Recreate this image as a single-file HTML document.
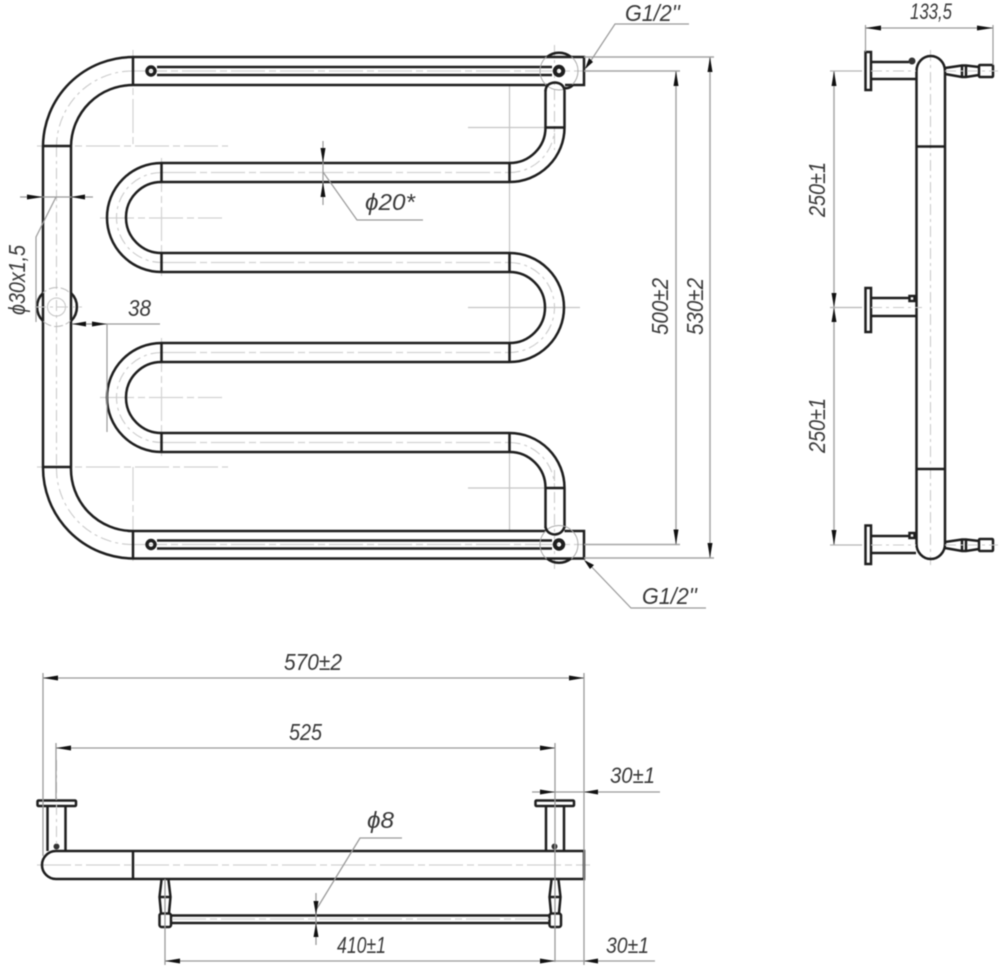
<!DOCTYPE html>
<html>
<head>
<meta charset="utf-8">
<style>
html,body{margin:0;padding:0;background:#fff;width:1000px;height:967px;overflow:hidden}
svg{display:block;filter:blur(.45px)}
.k{fill:none;stroke:#1e1e1e;stroke-width:2.5}
.m{fill:none;stroke:#444;stroke-width:1.4}
.d{fill:none;stroke:#9a9a9a;stroke-width:1.2}
.c{fill:none;stroke:#d2d2d2;stroke-width:1.2;stroke-dasharray:34 4 7 4}
.c2{fill:none;stroke:#cbcbcb;stroke-width:1.1;stroke-dasharray:11 4 3 4}
.a{fill:#111;stroke:none}
text{font-family:"Liberation Sans",sans-serif;font-style:italic;font-size:23px;fill:#3a3a3a}
</style>
</head>
<body>
<svg width="1000" height="967" viewBox="0 0 1000 967" xmlns="http://www.w3.org/2000/svg">

<!-- FRONT VIEW centerlines -->
<path class="c" d="M37,146H228M133,50V146M100,218H222M161.5,158V276M100,397.5H222M161.5,338V456M37,467H228M133,467V565"/>
<path class="c" d="M133,71H590M133,544.5H590M162,172.5H510M162,262.5H510M162,352.5H510M162,442.5H510"/>
<path class="c2" d="M56.5,146V470M554.5,45V150M554.5,470V570"/>
<path class="d" style="stroke:#c4c4c4" d="M509.5,85V163M468,127.5H545M509.5,452V531M468,488H545M509.5,253V160M468,307.5H580M509.5,362V272"/>
<path class="c2" d="M133,71A76,76 0 0 0 56.5,146M133,544.5A76,76 0 0 1 56.5,467M161.5,172.5A45,45 0 0 0 116.5,218A45,45 0 0 0 161.5,262.5M161.5,352.5A45,45 0 0 0 116.5,397.5A45,45 0 0 0 161.5,442.5M509.5,172.5A45,45 0 0 0 554.5,127.5M509.5,262.5A45,45 0 0 1 554.5,307.5A45,45 0 0 1 509.5,352.5M509.5,442.5A45,45 0 0 1 554.5,488"/>

<!-- FRONT VIEW outlines -->
<path class="k" d="M547,85H133A62,62 0 0 0 71,146V467A62,62 0 0 0 133,531H545.5M564.5,531H584V558.5H133A91,91 0 0 1 43,467V146A90,90 0 0 1 133,57H584V85H565"/>
<path class="k" d="M133,57V85M43,146H71M43,467H71M133,531V558"/>
<path class="k" d="M564.5,90V127.5A55,54.5 0 0 1 509.5,182H161.5A35.5,35.5 0 0 0 161.5,253H509.5A54.5,54.5 0 0 1 509.5,362H161.5A35.5,35.5 0 0 0 161.5,433H509.5A55,55 0 0 1 564.5,488V528"/>
<path class="k" d="M545.5,90V127.5A36,35.5 0 0 1 509.5,163H161.5A54.5,54.5 0 0 0 161.5,272H509.5A35.5,35.5 0 0 1 509.5,343H161.5A54.5,54.5 0 0 0 161.5,452H509.5A36,36 0 0 1 545.5,488V528"/>
<path class="k" d="M161.5,163V182M161.5,253V272M161.5,343V362M161.5,433V452M509.5,163V182M509.5,253V272M509.5,343V362M509.5,433V452M545.5,127.5H564.5M545.5,488H564.5"/>

<!-- Rails -->
<path class="k" d="M157,67H552M157,75H552M157,540.5H552M157,548.5H552"/>
<circle class="k" cx="151" cy="71" r="4" style="stroke-width:3.4"/>
<circle class="k" cx="151" cy="544.5" r="4" style="stroke-width:3.4"/>
<circle class="k" cx="559" cy="71" r="4.2" style="stroke-width:4"/>
<circle class="k" cx="559" cy="544.5" r="4.2" style="stroke-width:4"/>
<circle cx="559" cy="71" r="19" fill="none" stroke="#aaa" stroke-width="1"/>
<circle cx="559" cy="544.5" r="19" fill="none" stroke="#aaa" stroke-width="1"/>
<path class="k" d="M547,57A19,19 0 0 1 571,57M545.5,91Q546,83 555,82.500Q563,83 564.5,90M564.500,88Q569,89 573,85"/>
<path class="k" d="M547,558.500A19,19 0 0 0 571,558.500M545.500,527Q547,534 555,534.500Q562,534 564.500,527"/>

<!-- left mounting circle -->
<circle cx="56.5" cy="307" r="19.5" fill="none" stroke="#bbb" stroke-width="1" stroke-dasharray="9 3"/>
<circle cx="56.5" cy="307" r="9" fill="none" stroke="#c4c4c4" stroke-width="1"/>
<path class="k" d="M43,293A19.5,19.5 0 0 0 43,321M71,293A19.5,19.5 0 0 1 71,321"/>
<path class="c2" d="M35,307H82"/>

<!-- FRONT dims -->
<path class="d" d="M20,197H93M56,197L36,237V322"/>
<polygon class="a" points="43,197 27,194.5 27,199.5"/>
<polygon class="a" points="71,197 85,194.5 85,199.5"/>
<path class="d" d="M72,324H160M107,324V432"/>
<polygon class="a" points="72,324 86,321.5 86,326.5"/>
<polygon class="a" points="107,324 92,321.5 92,326.5"/>
<path class="d" d="M323,141V205M323,172L357,220H423"/>
<polygon class="a" points="323,163 320.5,148 325.5,148"/>
<polygon class="a" points="323,182 320.5,197 325.5,197"/>
<path class="d" style="stroke-width:1.5;stroke:#a5a5a5" d="M584,57H714M584,71H680M584,558H714M584,544.5H680M710,57V558M676,71V544.5"/>
<polygon class="a" points="710,57 707.5,72 712.5,72"/>
<polygon class="a" points="710,558 707.5,543 712.5,543"/>
<polygon class="a" points="676,71 673.5,86 678.5,86"/>
<polygon class="a" points="676,544.5 673.5,529.5 678.5,529.5"/>
<path class="d" d="M586,68L615,24H689M586,561L631,608H706"/>
<polygon class="a" points="585,69 589,58 593,62"/>
<polygon class="a" points="584,560 594,565 590,569"/>

<text x="625" y="21" textLength="55" lengthAdjust="spacingAndGlyphs">G1/2''</text>
<text x="642" y="604" textLength="55" lengthAdjust="spacingAndGlyphs">G1/2''</text>
<text x="128" y="316" textLength="23" lengthAdjust="spacingAndGlyphs">38</text>
<text x="365" y="210" textLength="50" lengthAdjust="spacingAndGlyphs">ϕ20*</text>
<text transform="translate(25,315) rotate(-90)" textLength="70" lengthAdjust="spacingAndGlyphs">ϕ30x1,5</text>
<text transform="translate(668,335) rotate(-90)" textLength="57" lengthAdjust="spacingAndGlyphs">500±2</text>
<text transform="translate(703,335) rotate(-90)" textLength="57" lengthAdjust="spacingAndGlyphs">530±2</text>

<!-- SIDE VIEW -->
<path class="c2" d="M930.5,50V565"/>
<path class="k" d="M916.5,71A14.25,15 0 0 1 945,71V544A14.25,15 0 0 1 916.5,544Z"/>
<path class="k" d="M916.5,146.500H945M916.5,469H945"/>
<rect class="k" x="865.500" y="52" width="5.500" height="38"/>
<rect class="k" x="865.500" y="288" width="5.500" height="44"/>
<rect class="k" x="865.500" y="525.500" width="5.500" height="38.500"/>
<path class="k" d="M871,62H909M871,79H916M871,298H909M871,316H916M871,536H909M871,553H916"/>
<circle cx="912" cy="61" r="3.500" fill="#333"/>
<rect class="k" x="909.500" y="296" width="5" height="5"/>
<rect class="k" x="909.500" y="533" width="5" height="5"/>
<path class="k" d="M945,68L962,65.500H966L979,67M945,74L962,77H966L979,75M962,65.500V77M966,65.500V77"/>
<rect class="k" x="979" y="65" width="14" height="12" rx="1"/>
<path class="k" d="M945,542L962,539.500H966L979,541M945,548L962,551H966L979,549M962,539.500V551M966,539.500V551"/>
<rect class="k" x="979" y="539" width="14" height="12" rx="1"/>
<path class="c2" d="M945,71H998M945,545H998"/>
<path class="d" d="M865.500,52V25M993,65V25M865.500,28H993"/>
<polygon class="a" points="865.500,28 881,25.500 881,30.500"/>
<polygon class="a" points="993,28 977,25.500 977,30.500"/>
<text x="910" y="19" textLength="42" lengthAdjust="spacingAndGlyphs" style="font-size:22px">133,5</text>
<path class="d" style="stroke-width:1.5;stroke:#a8a8a8" d="M834,71V545"/>
<path class="d" style="stroke:#b5b5b5" d="M830,71H862M830,307.500H862M830,545H862"/>
<path class="c2" d="M871,71H916M871,307.500H922M871,545H916"/>
<polygon class="a" points="834,71 831.500,86 836.500,86"/>
<polygon class="a" points="834,307.500 831.500,293 836.500,293"/>
<polygon class="a" points="834,307.500 831.500,322 836.500,322"/>
<polygon class="a" points="834,545 831.500,530 836.500,530"/>
<text transform="translate(825,217) rotate(-90)" textLength="55" lengthAdjust="spacingAndGlyphs">250±1</text>
<text transform="translate(825,453) rotate(-90)" textLength="55" lengthAdjust="spacingAndGlyphs">250±1</text>

<!-- BOTTOM VIEW -->
<path class="c" d="M37,865H590"/>
<path class="k" d="M584,851H56A14,14 0 0 0 56,879H584Z"/>
<path class="k" d="M133,851V879"/>
<rect class="k" x="37.500" y="800.500" width="38.500" height="5.500" rx="1"/>
<rect class="k" x="535.500" y="800.500" width="38.500" height="5.500" rx="1"/>
<path class="k" d="M47.500,806V851M65.500,806V851M546,806V851M564,806V851"/>
<circle cx="56.500" cy="846.500" r="3" fill="#333"/>
<circle cx="554.500" cy="846.500" r="3" fill="#333"/>
<path class="k" d="M161.500,880L159.500,897L161,913M168.500,880L170.500,897L169,913M159.500,897H170.500"/>
<rect class="k" x="159.500" y="913.500" width="11.500" height="13.500" rx="2"/>
<path class="k" d="M551.500,880L549.500,897L551,913M558.500,880L560.500,897L559,913M549.500,897H560.500"/>
<rect class="k" x="549.500" y="913.500" width="11.500" height="13.500" rx="2"/>
<path class="k" d="M171,915.500H550M171,923H550"/>
<path class="c" d="M172,919H549"/>
<path class="c2" d="M56.500,760V846"/>

<!-- BOTTOM dims -->
<path class="d" style="stroke-width:1.3" d="M43,678H584M43,673V856M584,673V965M56,748H555M56,743V800M555,743V962"/>
<polygon class="a" points="43,678 58,675.500 58,680.500"/>
<polygon class="a" points="584,678 569,675.500 569,680.500"/>
<polygon class="a" points="56,748 71,745.500 71,750.500"/>
<polygon class="a" points="555,748 540,745.500 540,750.500"/>
<path class="d" style="stroke-width:1.3" d="M532,792H660M165,879V965M165,961H655M316,893V945M316,910L360,838H402"/>
<polygon class="a" points="555,792 540,789.500 540,794.500"/>
<polygon class="a" points="584,792 598,789.500 598,794.500"/>
<polygon class="a" points="165,961 180,958.500 180,963.500"/>
<polygon class="a" points="555,961 540,958.500 540,963.500"/>
<polygon class="a" points="584,961 598,958.500 598,963.500"/>
<polygon class="a" points="316,915 313.500,901 318.500,901"/>
<polygon class="a" points="316,923 313.500,937 318.500,937"/>
<text x="284" y="670" textLength="58" lengthAdjust="spacingAndGlyphs">570±2</text>
<text x="289" y="740" textLength="33" lengthAdjust="spacingAndGlyphs">525</text>
<text x="610" y="783" textLength="45" lengthAdjust="spacingAndGlyphs" style="font-size:22px">30±1</text>
<text x="606" y="953" textLength="43" lengthAdjust="spacingAndGlyphs" style="font-size:22px">30±1</text>
<text x="337" y="953" textLength="49" lengthAdjust="spacingAndGlyphs">410±1</text>
<text x="367" y="828" textLength="27" lengthAdjust="spacingAndGlyphs">ϕ8</text>
</svg>
</body>
</html>
